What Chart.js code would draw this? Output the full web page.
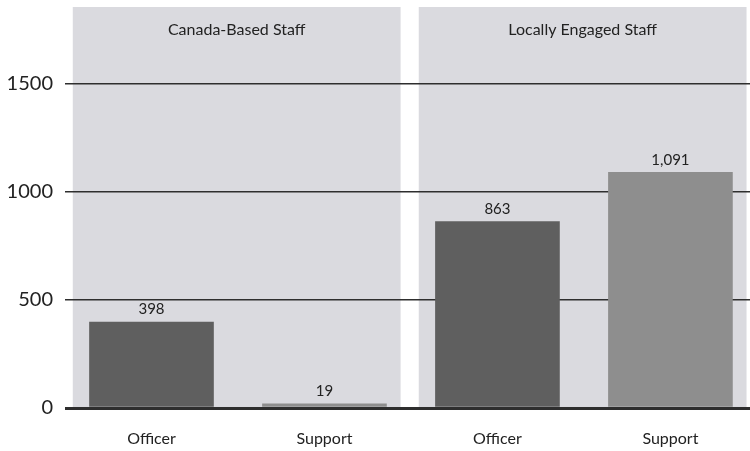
<!DOCTYPE html>
<html>
<head>
<meta charset="utf-8">
<script src="https://cdn.jsdelivr.net/npm/chart.js@4/dist/chart.umd.min.js"></script>
<style>
  body { margin: 0; background: #fff; }
  canvas { display: block; }
</style>
</head>
<body>
<canvas id="staffChart" width="750" height="451"></canvas>
<script>
// Data
const categories = ['Officer', 'Support', 'Officer', 'Support'];
const groups = ['Canada-Based Staff', 'Canada-Based Staff', 'Locally Engaged Staff', 'Locally Engaged Staff'];
const staffCounts = [398, 19, 863, 1091];
const yTicks = [0, 500, 1000, 1500];

const barColors = ['#5f5f5f', '#8e8e8e', '#5f5f5f', '#8e8e8e'];
const fontFamily = 'Lato, "Open Sans", sans-serif';

// Grey panel behind each group, with the group title near its top
const panelPlugin = {
    id: 'panels',
    beforeDraw(chart) {
        const { ctx, chartArea, scales: { x } } = chart;
        const names = [...new Set(groups)];
        ctx.save();
        names.forEach(name => {
            const idx = groups.map((g, i) => g === name ? i : -1).filter(i => i >= 0);
            const left = Math.max(chartArea.left, x.getPixelForValue(idx[0] - 0.455));
            const right = Math.min(chart.width, x.getPixelForValue(idx[idx.length - 1] + 0.44));
            ctx.fillStyle = '#dadadf';
            ctx.fillRect(left, chartArea.top, right - left, chartArea.bottom - chartArea.top);
            ctx.fillStyle = '#222';
            ctx.font = '16px ' + fontFamily;
            ctx.textAlign = 'center';
            ctx.textBaseline = 'middle';
            ctx.fillText(name, (left + right) / 2, chartArea.top + 23);
        });
        ctx.restore();
    }
};

// Value above each bar
const valueLabels = {
    id: 'valueLabels',
    afterDatasetsDraw(chart) {
        const { ctx } = chart;
        const meta = chart.getDatasetMeta(0);
        ctx.save();
        ctx.fillStyle = '#222';
        ctx.font = '15px ' + fontFamily;
        ctx.textAlign = 'center';
        ctx.textBaseline = 'bottom';
        meta.data.forEach((bar, i) => {
            ctx.fillText(staffCounts[i].toLocaleString('en-US'), bar.x, bar.y - 5);
        });
        ctx.restore();
    }
};

new Chart(document.getElementById('staffChart'), {
    type: 'bar',
    data: {
        datasets: [{
            data: staffCounts.map((v, i) => ({ x: i, y: v })),
            backgroundColor: barColors,
            barThickness: 124,
            borderWidth: 0
        }]
    },
    options: {
        responsive: false,
        animation: false,
        layout: { padding: { top: 7, right: 0, left: 0, bottom: 0 } },
        scales: {
            x: {
                type: 'linear',
                offset: false,
                min: -0.5,
                max: 3.46,
                grid: { display: false },
                border: { display: false },
                afterBuildTicks: scale => { scale.ticks = categories.map((c, i) => ({ value: i })); },
                afterFit: scale => { scale.height = 43; scale.paddingLeft = 0; scale.paddingRight = 0; },
                ticks: {
                    padding: 13,
                    maxRotation: 0,
                    color: '#222',
                    font: { family: fontFamily, size: 16 },
                    callback: v => categories[v]
                }
            },
            y: {
                min: 0,
                max: 1856,
                border: { display: false },
                afterBuildTicks: scale => { scale.ticks = yTicks.map(v => ({ value: v })); },
                afterFit: scale => { scale.width = 65; scale.paddingTop = 0; scale.paddingBottom = 0; },
                grid: {
                    drawTicks: false,
                    color: '#2e2e2e',
                    lineWidth: c => c.tick && c.tick.value === 0 ? 3 : 1.5
                },
                ticks: {
                    padding: 12,
                    color: '#222',
                    font: { family: fontFamily, size: 20 },
                    callback: v => String(v)
                }
            }
        },
        plugins: {
            legend: { display: false },
            tooltip: { enabled: false }
        }
    },
    plugins: [panelPlugin, valueLabels]
});
</script>
</body>
</html>
